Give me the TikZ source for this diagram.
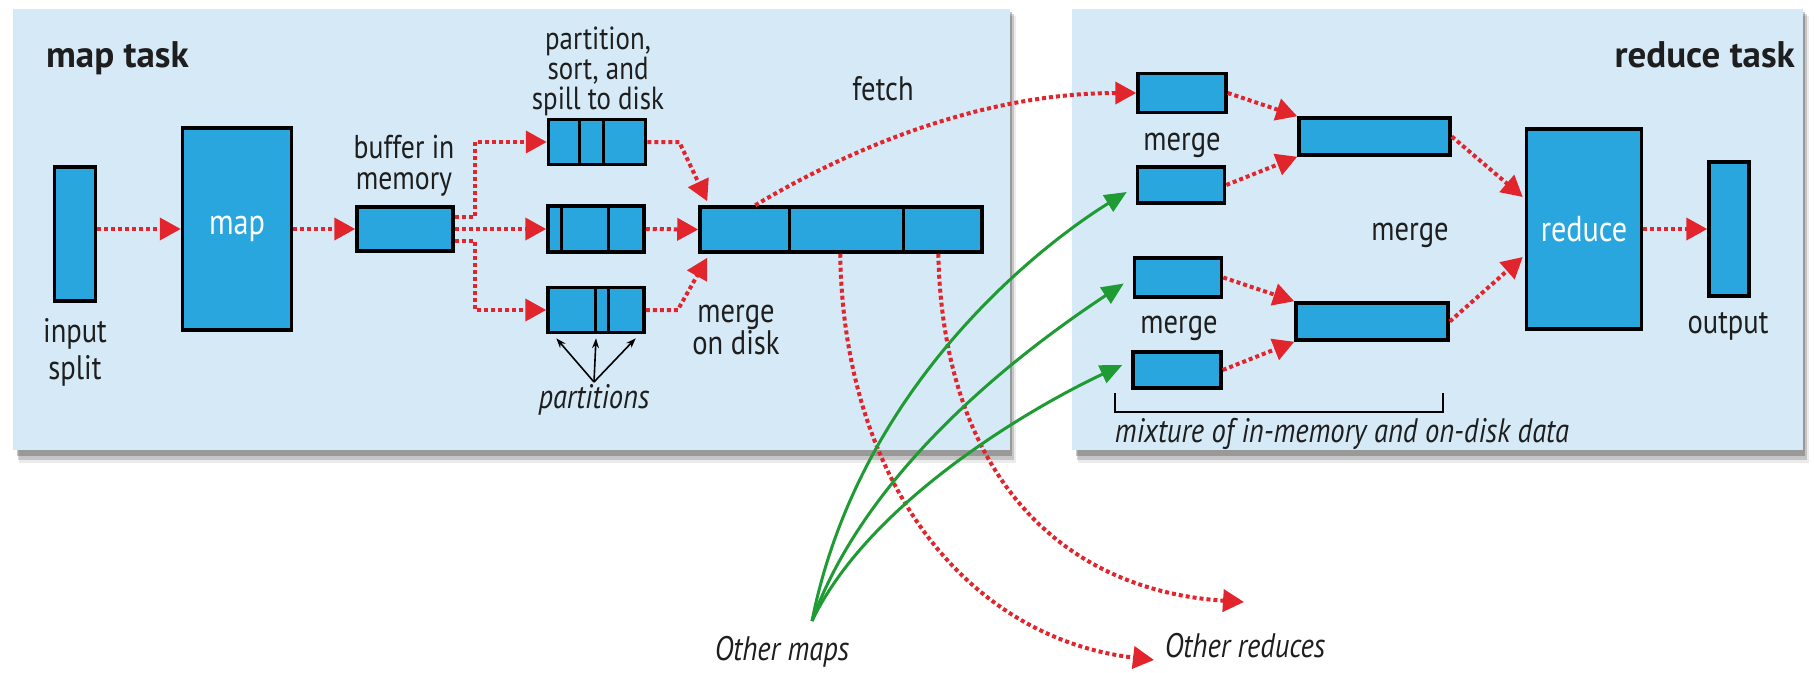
\documentclass[tikz,border=0pt]{standalone}
\usepackage{fontspec}
\setmainfont{PT Sans}[FakeStretch=0.84]
\newfontfamily\headfont{PT Sans}
\usetikzlibrary{arrows.meta,calc}
\definecolor{panelblue}{RGB}{213,234,246}
\definecolor{boxblue}{RGB}{41,166,222}
\definecolor{flowred}{RGB}{226,36,44}
\definecolor{flowgreen}{RGB}{30,155,50}
\definecolor{ink}{RGB}{30,30,30}
% draw a vertical divider inside a box at a fraction of its width
\newcommand{\splitline}[2]{%
  \draw[line width=3pt] ($(#1.north west)!#2!(#1.north east)$) -- ($(#1.south west)!#2!(#1.south east)$);}
\begin{document}
\begin{tikzpicture}[x=1pt,y=-1pt,
  lbl/.style={text=ink, inner sep=0pt, font=\fontsize{34}{34}\selectfont},
  ital/.style={lbl, font=\fontsize{34}{34}\selectfont\itshape},
  title/.style={text=ink, inner sep=0pt, font=\headfont\fontsize{37}{37}\selectfont\bfseries},
  blk/.style={draw=black, line width=3.5pt, fill=boxblue, inner sep=0pt,
    text=white, font=\fontsize{36}{36}\selectfont},
  reddot/.style={draw=flowred, line width=4pt, dash pattern=on 4pt off 3pt,
    -{Triangle[length=21pt,width=22pt]}},
  greenarr/.style={draw=flowgreen, line width=3pt,
    -{Triangle[length=22pt,width=19pt]}},
  thin/.style={draw=black, line width=1.6pt, -{Stealth[length=10pt,width=7pt]}}
]
\useasboundingbox[fill=white] (0,0) rectangle (1815,672);

% panels with a soft shadow underneath
\foreach \xa/\xb in {13/1010, 1072/1803}{
  \fill[black, opacity=0.08] (\xa+6,16) rectangle (\xb+6,463);
  \fill[black, opacity=0.16] (\xa+5,14) rectangle (\xb+4,460);
  \fill[black, opacity=0.22] (\xa+4,12) rectangle (\xb+2,456);
  \fill[panelblue] (\xa,9) rectangle (\xb,450);
}

% ---------- map side ----------
\node[title, anchor=base west] (mt) at (46,67) {map task};

\node[blk, minimum width=41pt, minimum height=134pt] (inp) at (75,234) {};
\node[lbl, align=center, font=\fontsize{34}{37}\selectfont] (inpl) at (75,352) {input\\split};

\node[blk, minimum width=109pt, minimum height=202pt] (mapb) at (237,229) {map};

\node[blk, minimum width=96pt, minimum height=44pt] (buf) at (405,229) {};
\node[lbl, align=center, font=\fontsize{33}{31}\selectfont] (bufl) at (404,166) {buffer in\\memory};

\node[blk, minimum width=97pt, minimum height=45pt] (sp1) at (597,142) {};
\node[blk, minimum width=96pt, minimum height=46pt] (sp2) at (596,229) {};
\node[blk, minimum width=96pt, minimum height=45pt] (sp3) at (596,310) {};
\splitline{sp1}{0.33}\splitline{sp1}{0.56}
\splitline{sp2}{0.15}\splitline{sp2}{0.63}
\splitline{sp3}{0.49}\splitline{sp3}{0.63}
\node[lbl, align=center, font=\fontsize{32}{30}\selectfont] (spl) at (598,71) {partition,\\sort, and\\spill to disk};

\node[ital, anchor=base] (parts) at (594,408) {partitions};
\coordinate (pp) at (594,382);
\draw[thin] (pp) -- ($(sp3.south west)+(10,4)$);
\draw[thin] (pp) -- ($(sp3.south)+(0,4)$);
\draw[thin] (pp) -- ($(sp3.south east)+(-10,4)$);

\node[blk, minimum width=282pt, minimum height=45pt] (mg) at (841,229.5) {};
\splitline{mg}{0.32}\splitline{mg}{0.72}
\node[lbl, align=center, font=\fontsize{34}{29}\selectfont] (mgl) at (736,330) {merge\\on disk};

\node[lbl, anchor=base] (fetch) at (883,100) {fetch};

% map-side flow
\draw[reddot] (inp.east |- mapb.west) -- (mapb.west);
\draw[reddot] (mapb.east) -- (buf.west);
\draw[reddot] ($(buf.east)+(0,-12)$) -- ++(20,0) |- (sp1.west);
\draw[reddot] (buf.east) -- (sp2.west);
\draw[reddot] ($(buf.east)+(0,12)$) -- ++(20,0) |- (sp3.west);
\draw[reddot] (sp1.east) -- ++(32,0) -- ($(mg.north west)+(9,-4)$);
\draw[reddot] (sp2.east) -- (mg.west);
\draw[reddot] (sp3.east) -- ++(32,0) -- ($(mg.south west)+(9,4)$);

% ---------- reduce side ----------
\node[title, anchor=base east] (rt) at (1795,67) {reduce task};

\node[blk, minimum width=88pt, minimum height=39pt] (b1) at (1182,93) {};
\node[blk, minimum width=87pt, minimum height=36pt] (b2) at (1181,185) {};
\node[blk, minimum width=87pt, minimum height=39pt] (b3) at (1178,277.5) {};
\node[blk, minimum width=88pt, minimum height=36pt] (b4) at (1177,370) {};
\node[lbl, anchor=base] (mr1) at (1182,150) {merge};
\node[lbl, anchor=base] (mr2) at (1179,333) {merge};

\node[blk, minimum width=151pt, minimum height=37pt] (m1) at (1374.5,136.5) {};
\node[blk, minimum width=152pt, minimum height=37pt] (m2) at (1372,321.5) {};
\node[lbl, anchor=base] (mr3) at (1410,240) {merge};

\node[blk, minimum width=115pt, minimum height=200pt] (rd) at (1584,229) {reduce};
\node[blk, minimum width=40pt, minimum height=134pt] (out) at (1729,229) {};
\node[lbl, anchor=base] (outl) at (1728,333) {output};

\draw[line width=2pt] (1115,393) -- (1115,412) -- (1443,412) -- (1443,393);
\node[ital, anchor=base] (mix) at (1342,442) {mixture of in-memory and on-disk data};

\draw[reddot] (b1.east) -- (m1.north west);
\draw[reddot] (b2.east) -- (m1.south west);
\draw[reddot] (b3.east) -- (m2.north west);
\draw[reddot] (b4.east) -- (m2.south west);
\draw[reddot] (m1.east) -- ($(rd.west)+(-2,-32)$);
\draw[reddot] (m2.east) -- ($(rd.west)+(-2,28)$);
\draw[reddot] (rd.east) -- (out.west);

% ---------- between the tasks ----------
\draw[reddot] ($(mg.north west)+(57,0)$) .. controls +(100,-60) and +(-150,0) .. (b1.west);

\node[ital, anchor=base] (om) at (782,660) {Other maps};
\node[ital, anchor=base] (orr) at (1245,657) {Other reduces};
\coordinate (osrc) at (812,621);
\coordinate (or1) at (1154,660);
\coordinate (or2) at (1244,602);

\draw[reddot] ($(mg.south west)+(142,0)$) .. controls +(3,228) and +(-187,-22) .. (or1);
\draw[reddot] ($(mg.south west)+(240,0)$) .. controls +(5,218) and +(-186,-12) .. (or2);

\draw[greenarr] (osrc) .. controls +(48,-241) and +(-78,48) .. ($(b2.west)+(-9,7)$);
\draw[greenarr] (osrc) .. controls +(58,-161) and +(-86,57) .. ($(b3.west)+(-9,6)$);
\draw[greenarr] (osrc) .. controls +(58,-121) and +(-86,40) .. ($(b4.west)+(-9,-5)$);
\end{tikzpicture}
\end{document}
